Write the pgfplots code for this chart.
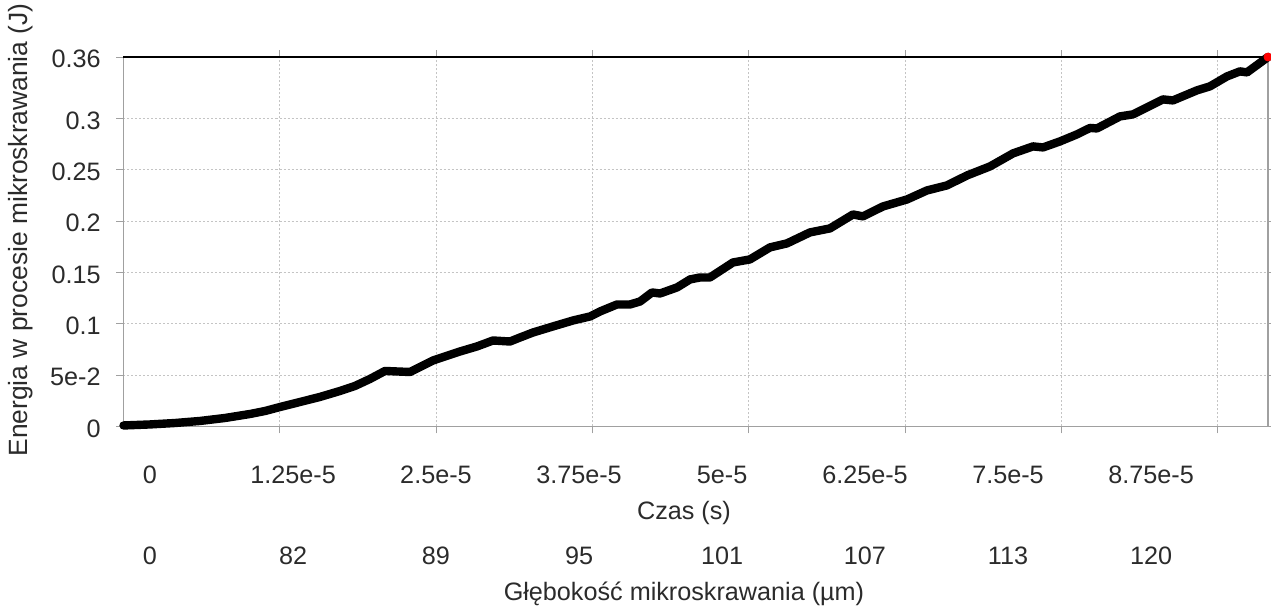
\documentclass[border=0pt]{standalone}
\usepackage{fontspec}
\setmainfont{Liberation Sans}
\usepackage{pgfplots}
\pgfplotsset{compat=1.18}
\definecolor{txt}{HTML}{2B2B2B}
\definecolor{gridc}{HTML}{C4C4C4}
\definecolor{axc}{HTML}{A0A0A0}
\begin{document}
\begin{tikzpicture}[font=\fontsize{12.6}{15}\selectfont]
\path[use as bounding box] (-61.75pt,-91.75pt) rectangle (573.75pt,213.25pt);
\begin{axis}[
  at={(0,0)}, anchor=south west,
  scale only axis, width=572.25pt, height=184.75pt,
  xmin=0, xmax=9.153, ymin=0, ymax=0.36,
  clip=false,
  axis line style={axc, line width=0.75pt},
  xtick={1.25,2.5,3.75,5,6.25,7.5,8.75}, xticklabels={},
  ytick={0,0.05,0.1,0.15,0.2,0.25,0.3,0.36},
  yticklabels={0,5e-2,0.1,0.15,0.2,0.25,0.3,0.36},
  grid=major,
  grid style={gridc, dash pattern=on 1pt off 1pt, line width=0.5pt},
  tick align=outside, major tick length=3.5pt,
  tick style={axc, line width=0.5pt},
  yticklabel style={anchor=east, inner sep=0pt, xshift=-7.75pt, yshift=-1pt, text=txt},
  extra x ticks={0.212,1.356,2.499,3.643,4.787,5.930,7.074,8.218},
  extra x tick labels={0,1.25e-5,2.5e-5,3.75e-5,5e-5,6.25e-5,7.5e-5,8.75e-5},
  extra x tick style={grid=none, major tick length=0pt,
    xticklabel style={anchor=center, inner sep=0pt, yshift=-24.25pt, text=txt}},
  ylabel={Energia w procesie mikroskrawania (J)},
  ylabel style={at={(axis description cs:-0.0896,0.532)}, anchor=center, text=txt, inner sep=0pt, font=\fontsize{13.2}{15}\selectfont},
]
\addplot[black, line width=4.2pt, line join=round, line cap=round] table {
x y
0 0.001
0.212 0.002
0.412 0.0034
0.612 0.0054
0.812 0.0083
1.012 0.0122
1.132 0.0151
1.252 0.0190
1.412 0.0239
1.571 0.0288
1.731 0.0346
1.851 0.0395
1.971 0.0463
2.091 0.0541
2.291 0.0531
2.475 0.0643
2.691 0.0731
2.827 0.0780
2.955 0.0838
3.091 0.0828
3.171 0.0867
3.275 0.0916
3.435 0.0975
3.595 0.1033
3.731 0.1072
3.811 0.1121
3.947 0.1189
4.051 0.1189
4.131 0.1218
4.227 0.1306
4.291 0.1296
4.427 0.1355
4.531 0.1433
4.611 0.1452
4.690 0.1452
4.874 0.1598
5.010 0.1628
5.170 0.1745
5.306 0.1784
5.490 0.1891
5.650 0.1930
5.834 0.2066
5.914 0.2047
6.074 0.2144
6.266 0.2212
6.426 0.2300
6.586 0.2349
6.746 0.2446
6.930 0.2534
7.114 0.2661
7.274 0.2729
7.354 0.2719
7.490 0.2778
7.625 0.2846
7.730 0.2909
7.785 0.2904
7.969 0.3021
8.073 0.3041
8.313 0.3187
8.393 0.3177
8.585 0.3275
8.689 0.3314
8.825 0.3411
8.929 0.3460
8.985 0.3450
9.153 0.3600
};
\addplot[only marks, mark=*, mark size=2pt, red, forget plot] coordinates {(9.153,0.36)};
\draw[black, line width=0.75pt] (rel axis cs:0,1) -- (rel axis cs:1,1);
\node[text=txt, inner sep=0pt] at (axis cs:0.212,0) [yshift=-64.75pt] {0};
\node[text=txt, inner sep=0pt] at (axis cs:1.356,0) [yshift=-64.75pt] {82};
\node[text=txt, inner sep=0pt] at (axis cs:2.499,0) [yshift=-64.75pt] {89};
\node[text=txt, inner sep=0pt] at (axis cs:3.643,0) [yshift=-64.75pt] {95};
\node[text=txt, inner sep=0pt] at (axis cs:4.787,0) [yshift=-64.75pt] {101};
\node[text=txt, inner sep=0pt] at (axis cs:5.930,0) [yshift=-64.75pt] {107};
\node[text=txt, inner sep=0pt] at (axis cs:7.074,0) [yshift=-64.75pt] {113};
\node[text=txt, inner sep=0pt] at (axis cs:8.218,0) [yshift=-64.75pt] {120};
\node[text=txt, inner sep=0pt] at (axis description cs:0.4897,0) [yshift=-43.25pt] {Czas (s)};
\node[text=txt, inner sep=0pt] at (axis description cs:0.4897,0) [yshift=-83.75pt] {Głębokość mikroskrawania (µm)};
\end{axis}
\end{tikzpicture}
\end{document}
